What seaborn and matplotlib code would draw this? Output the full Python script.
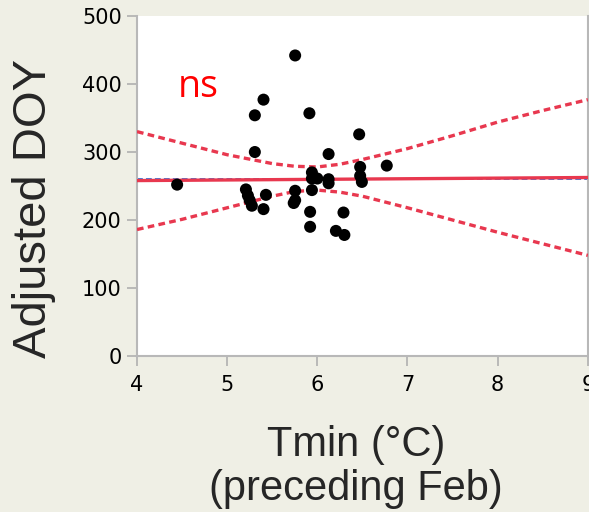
import pandas as pd
import seaborn as sns
import matplotlib.pyplot as plt

sns.set_style("white")
plt.rcParams['font.family'] = ['DejaVu Sans']

# Tmin of preceding February (°C) and adjusted day of year
tmin = [5.754, 5.403, 5.307, 5.912, 6.464, 5.307, 6.125, 6.77, 6.475, 6.475,
        6.494, 5.94, 5.94, 6.0, 6.125, 6.125, 4.445, 5.94, 5.754, 5.754,
        5.738, 5.208, 5.23, 5.25, 5.274, 5.43, 5.403, 5.92, 5.92, 6.29,
        6.206, 6.30]
doy = [442, 377, 354, 357, 326, 300, 297, 280, 278, 265,
       256, 270, 261, 261, 260, 254, 252, 244, 243, 229,
       225, 245, 236, 229, 221, 237, 216, 212, 190, 211,
       184, 178]

# fitted line, mean line and 95% confidence band
fit_x = [4, 9]
fit_y = [258, 262.5]
mean_doy = 260
band_x = [4, 4.5, 5, 5.5, 5.75, 6, 6.25, 6.5, 7, 7.5, 8, 8.5, 9]
band_hi = [330, 313, 296, 283, 279, 278, 282, 289, 305, 324, 344, 361, 377]
band_lo = [186, 201, 218, 235, 242, 244, 241, 235, 218, 200, 182, 165, 148]

x_ticks = [4, 5, 6, 7, 8, 9]
y_ticks = [0, 100, 200, 300, 400, 500]

BG = "#efefe5"
RED = "#e8384f"
BLUE = "#3d7fe0"

df = pd.DataFrame({"Tmin": tmin, "DOY": doy})
fit = pd.DataFrame({"x": fit_x, "y": fit_y})
band = pd.DataFrame({"x": band_x, "hi": band_hi, "lo": band_lo})

fig = plt.figure(figsize=(5.89, 5.12), dpi=100, facecolor=BG)
ax = fig.add_axes([0.2326, 0.3047, 0.7654, 0.664])
ax.set_facecolor("white")

ax.axhline(mean_doy, color=BLUE, lw=1.4, ls=(0, (3, 1.6)), zorder=2)
sns.lineplot(data=fit, x="x", y="y", ax=ax, color=RED, lw=2.4, zorder=3)
sns.lineplot(data=band, x="x", y="hi", ax=ax, color=RED, lw=2.4, ls=(0, (2, 1.3)), zorder=3)
sns.lineplot(data=band, x="x", y="lo", ax=ax, color=RED, lw=2.4, ls=(0, (2, 1.3)), zorder=3)
sns.scatterplot(data=df, x="Tmin", y="DOY", ax=ax, color="black", s=75,
                edgecolor="none", zorder=4)

ax.text(4.45, 381, "ns", color="red", fontsize=27, family=["Open Sans", "DejaVu Sans"])

ax.set_xlim(4, 9)
ax.set_ylim(0, 500)
ax.set_xticks(x_ticks)
ax.set_yticks(y_ticks)
ax.tick_params(axis="both", which="major", direction="out", length=7, width=1.2,
               color="#b0b0b0", labelsize=15, labelcolor="black", pad=4,
               left=True, bottom=True)
ax.tick_params(axis="x", pad=7)
for side in ["left", "bottom", "right"]:
    ax.spines[side].set_color("#b8b8b8")
    ax.spines[side].set_linewidth(1.5)
ax.spines["top"].set_visible(False)
ax.set_xlabel("")
ax.set_ylabel("")

fig.text(0.057, 0.592, "Adjusted DOY", rotation=90, ha="center", va="center",
         fontsize=34, family=["Liberation Sans", "DejaVu Sans"])
fig.text(0.605, 0.088, "Tmin (°C)\n(preceding Feb)", ha="center", va="center",
         fontsize=30, linespacing=1.15, family=["Liberation Sans", "DejaVu Sans"])

fig.savefig("out.png", dpi=100, facecolor=BG)
